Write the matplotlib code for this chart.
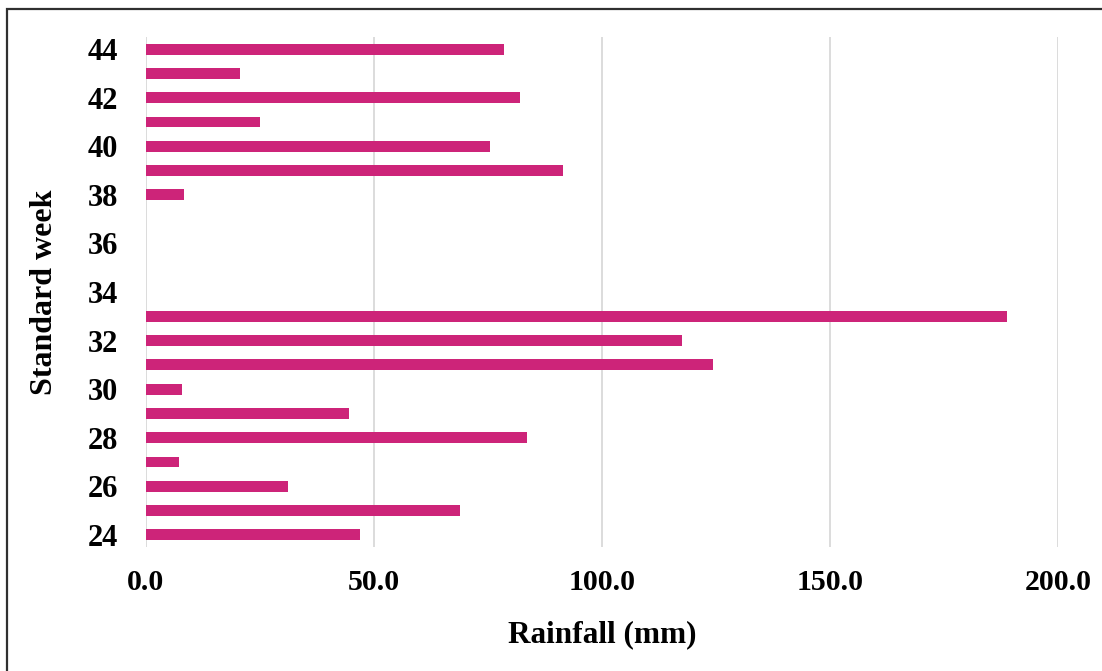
import matplotlib
matplotlib.use("Agg")
import matplotlib.pyplot as plt
from matplotlib.patches import Rectangle

# Weekly rainfall by standard meteorological week
weeks = list(range(24, 45))
rainfall = [47.1, 69.0, 31.3, 7.3, 83.6, 44.7, 7.9, 124.3, 117.5, 188.9,
            0.0, 0.0, 0.0, 0.0,
            8.4, 91.6, 75.5, 25.2, 82.1, 20.7, 78.5]
ytick_weeks = list(range(24, 45, 2))
xticks = [0, 50, 100, 150, 200]

W, H = 1102, 671
fig = plt.figure(figsize=(W / 100, H / 100), dpi=100)
font = {"family": "Liberation Serif", "weight": "bold"}

ax = fig.add_axes([145.5 / W, 1 - 547 / H, (1058 - 145.5) / W, (547 - 37) / H])
ax.barh(weeks, rainfall, height=0.45, color="#CD2479", zorder=3)

ax.set_xlim(0, 200)
ax.set_ylim(23.5, 44.5)
ax.set_xticks(xticks)
ax.set_xticklabels([f"{v:.1f}" for v in xticks], fontdict=dict(font, size=21.5))
ax.set_yticks(ytick_weeks)
ax.set_yticklabels([str(w) for w in ytick_weeks], fontdict=dict(font, size=22))
ax.tick_params(axis="y", length=0, pad=20)
ax.tick_params(axis="x", length=0, pad=16)

ax.grid(axis="x", color="#d9d9d9", linewidth=1.3, zorder=0)
for s in ax.spines.values():
    s.set_visible(False)

ax.set_xlabel("Rainfall (mm)", fontdict=dict(font, size=22.5), labelpad=17)
ax.set_ylabel("Standard week", fontdict=dict(font, size=23), labelpad=20)

# Outer frame around the chart area
fig.patches.append(Rectangle((7 / W, -0.05), 1.2, 1 - 9 / H + 0.05,
                             transform=fig.transFigure, fill=False,
                             edgecolor="#303030", linewidth=1.6))

fig.savefig("out.png", dpi=100, facecolor="white")
